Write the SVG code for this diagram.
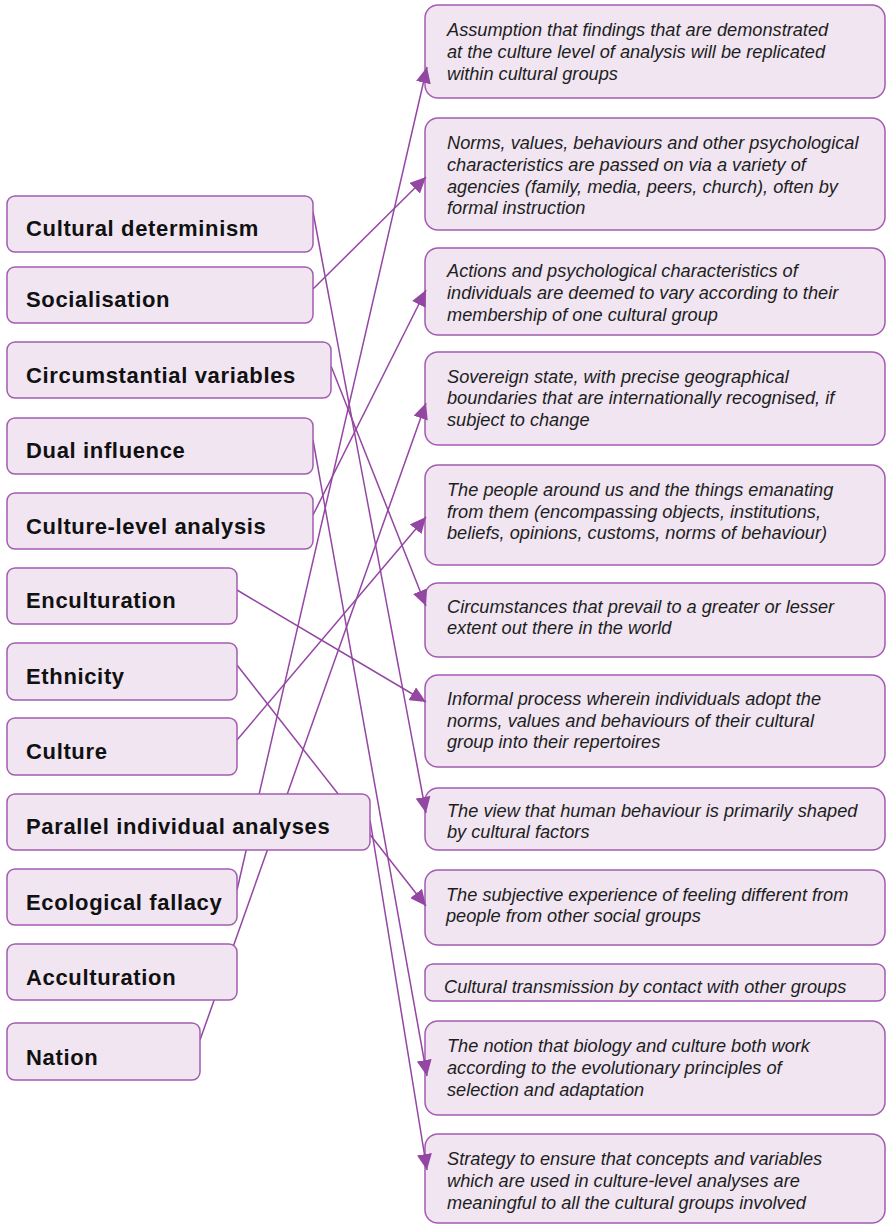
<svg xmlns="http://www.w3.org/2000/svg" width="887" height="1225" viewBox="0 0 887 1225">
  <defs>
    <style>
      .term rect { fill: #f0e5f1; stroke: #a35cb0; stroke-width: 1.5; }
      .term text { font-family: "Liberation Sans", Arial, sans-serif; font-weight: bold; font-size: 22px; letter-spacing: 0.65px; fill: #111; }
      .def rect { fill: #f0e5f1; stroke: #a35cb0; stroke-width: 1.5; }
      .def text { font-family: "Liberation Sans", Arial, sans-serif; font-style: italic; font-size: 18.2px; fill: #1e1e1e; }
      .links line { stroke: #9446a3; stroke-width: 1.5; fill: none; marker-end: url(#arrow); }
    </style>
    <marker id="arrow" markerUnits="userSpaceOnUse" markerWidth="17" markerHeight="15" refX="16" refY="7.5" orient="auto">
      <path d="M0,0 L16,7.5 L0,15 z" fill="#9446a3"/>
    </marker>
  </defs>

  <!-- definitions (right column) -->
  <g id="def-assumption" class="def">
    <rect x="425" y="5" width="460" height="93" rx="13"/>
    <text x="447" y="36">Assumption that findings that are demonstrated</text>
    <text x="447" y="58">at the culture level of analysis will be replicated</text>
    <text x="447" y="80">within cultural groups</text>
  </g>
  <g id="def-norms" class="def">
    <rect x="425" y="118" width="460" height="112" rx="13"/>
    <text x="447" y="149">Norms, values, behaviours and other psychological</text>
    <text x="447" y="171">characteristics are passed on via a variety of</text>
    <text x="447" y="193">agencies (family, media, peers, church), often by</text>
    <text x="447" y="214">formal instruction</text>
  </g>
  <g id="def-actions" class="def">
    <rect x="425" y="248" width="460" height="87" rx="13"/>
    <text x="447" y="277">Actions and psychological characteristics of</text>
    <text x="447" y="299">individuals are deemed to vary according to their</text>
    <text x="447" y="321">membership of one cultural group</text>
  </g>
  <g id="def-sovereign" class="def">
    <rect x="425" y="352" width="460" height="93" rx="13"/>
    <text x="447" y="383">Sovereign state, with precise geographical</text>
    <text x="447" y="404">boundaries that are internationally recognised, if</text>
    <text x="447" y="426">subject to change</text>
  </g>
  <g id="def-people" class="def">
    <rect x="425" y="465" width="460" height="100" rx="13"/>
    <text x="447" y="496">The people around us and the things emanating</text>
    <text x="447" y="518">from them (encompassing objects, institutions,</text>
    <text x="447" y="539">beliefs, opinions, customs, norms of behaviour)</text>
  </g>
  <g id="def-circumstances" class="def">
    <rect x="425" y="583" width="460" height="74" rx="13"/>
    <text x="447" y="613">Circumstances that prevail to a greater or lesser</text>
    <text x="447" y="634">extent out there in the world</text>
  </g>
  <g id="def-informal" class="def">
    <rect x="425" y="675" width="460" height="92" rx="13"/>
    <text x="447" y="705">Informal process wherein individuals adopt the</text>
    <text x="447" y="727">norms, values and behaviours of their cultural</text>
    <text x="447" y="748">group into their repertoires</text>
  </g>
  <g id="def-view" class="def">
    <rect x="425" y="788" width="460" height="62" rx="13"/>
    <text x="447" y="817">The view that human behaviour is primarily shaped</text>
    <text x="447" y="838">by cultural factors</text>
  </g>
  <g id="def-subjective" class="def">
    <rect x="425" y="870" width="460" height="75" rx="13"/>
    <text x="446" y="901">The subjective experience of feeling different from</text>
    <text x="446" y="922">people from other social groups</text>
  </g>
  <g id="def-transmission" class="def">
    <rect x="425" y="964" width="460" height="37" rx="8"/>
    <text x="444" y="993">Cultural transmission by contact with other groups</text>
  </g>
  <g id="def-notion" class="def">
    <rect x="425" y="1021" width="460" height="94" rx="13"/>
    <text x="447" y="1052">The notion that biology and culture both work</text>
    <text x="447" y="1074">according to the evolutionary principles of</text>
    <text x="447" y="1096">selection and adaptation</text>
  </g>
  <g id="def-strategy" class="def">
    <rect x="425" y="1134" width="460" height="89" rx="13"/>
    <text x="447" y="1165">Strategy to ensure that concepts and variables</text>
    <text x="447" y="1187">which are used in culture-level analyses are</text>
    <text x="447" y="1209">meaningful to all the cultural groups involved</text>
  </g>

  <!-- connectors: term to definition -->
  <g id="connectors" class="links">
    <line x1="313" y1="212" x2="426" y2="813"/>
    <line x1="313" y1="289" x2="426" y2="177"/>
    <line x1="331" y1="366" x2="426" y2="606"/>
    <line x1="313" y1="440" x2="427" y2="1076"/>
    <line x1="313" y1="515" x2="426" y2="290"/>
    <line x1="237" y1="590" x2="426" y2="702"/>
    <line x1="237" y1="665" x2="426" y2="906"/>
    <line x1="237" y1="740" x2="426" y2="517"/>
    <line x1="370" y1="820" x2="427" y2="1170"/>
    <line x1="237" y1="890" x2="427" y2="67"/>
    <line x1="200" y1="1040" x2="426" y2="403"/>
  </g>

  <!-- terms (left column) -->
  <g id="term-cultural-determinism" class="term">
    <rect x="7" y="196" width="306" height="56" rx="8"/>
    <text x="26" y="236">Cultural determinism</text>
  </g>
  <g id="term-socialisation" class="term">
    <rect x="7" y="267" width="306" height="56" rx="8"/>
    <text x="26" y="307">Socialisation</text>
  </g>
  <g id="term-circumstantial-variables" class="term">
    <rect x="7" y="342" width="324" height="56" rx="8"/>
    <text x="26" y="383">Circumstantial variables</text>
  </g>
  <g id="term-dual-influence" class="term">
    <rect x="7" y="418" width="306" height="56" rx="8"/>
    <text x="26" y="458">Dual influence</text>
  </g>
  <g id="term-culture-level-analysis" class="term">
    <rect x="7" y="493" width="306" height="56" rx="8"/>
    <text x="26" y="534">Culture-level analysis</text>
  </g>
  <g id="term-enculturation" class="term">
    <rect x="7" y="568" width="230" height="56" rx="8"/>
    <text x="26" y="608">Enculturation</text>
  </g>
  <g id="term-ethnicity" class="term">
    <rect x="7" y="643" width="230" height="57" rx="8"/>
    <text x="26" y="684">Ethnicity</text>
  </g>
  <g id="term-culture" class="term">
    <rect x="7" y="718" width="230" height="57" rx="8"/>
    <text x="26" y="759">Culture</text>
  </g>
  <g id="term-parallel-individual-analyses" class="term">
    <rect x="7" y="794" width="363" height="56" rx="8"/>
    <text x="26" y="834">Parallel individual analyses</text>
  </g>
  <g id="term-ecological-fallacy" class="term">
    <rect x="7" y="869" width="230" height="56" rx="8"/>
    <text x="26" y="910">Ecological fallacy</text>
  </g>
  <g id="term-acculturation" class="term">
    <rect x="7" y="944" width="230" height="56" rx="8"/>
    <text x="26" y="985">Acculturation</text>
  </g>
  <g id="term-nation" class="term">
    <rect x="7" y="1023" width="193" height="57" rx="8"/>
    <text x="26" y="1065">Nation</text>
  </g>
</svg>
